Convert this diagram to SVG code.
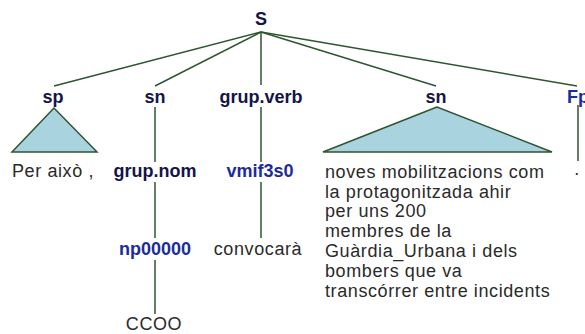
<svg xmlns="http://www.w3.org/2000/svg" width="585" height="334" viewBox="0 0 585 334">
<style>
.nt{font-family:"Liberation Sans",Arial,sans-serif;font-weight:bold;font-size:18px;fill:#14144a;text-anchor:middle}
.tag{font-family:"Liberation Sans",Arial,sans-serif;font-weight:bold;font-size:18px;fill:#1c2c9c;text-anchor:middle}
.w{font-family:"Liberation Sans",Arial,sans-serif;font-size:18px;fill:#2a2a2a;letter-spacing:0.6px}
.e{stroke:#2f5530;stroke-width:1.5;fill:none}
.tri{fill:#a9d3df;stroke:#2f5530;stroke-width:1.5}
</style>
<rect width="585" height="334" fill="#ffffff"/>
<g id="connectors">
<line class="e" x1="261" y1="32" x2="54" y2="86"/>
<line class="e" x1="261" y1="32" x2="155" y2="86"/>
<line class="e" x1="261" y1="32" x2="261" y2="85"/>
<line class="e" x1="261" y1="32" x2="436" y2="86"/>
<line class="e" x1="261" y1="32" x2="577" y2="86"/>
<line class="e" x1="155" y1="107" x2="155" y2="162"/>
<line class="e" x1="261" y1="107" x2="261" y2="162"/>
<line class="e" x1="578" y1="105" x2="578" y2="161"/>
<line class="e" x1="155" y1="182" x2="155" y2="238"/>
<line class="e" x1="261" y1="182" x2="261" y2="238"/>
<line class="e" x1="155" y1="260" x2="155" y2="314"/>
</g>
<g id="S"><text class="nt" x="261" y="25">S</text></g>
<g id="sp">
<text class="nt" x="53" y="103">sp</text>
<polygon class="tri" points="54,108 12,152 97,152"/>
<text class="w" x="12" y="177">Per això ,</text>
</g>
<g id="sn1"><text class="nt" x="155" y="103">sn</text></g>
<g id="grup-nom"><text class="nt" x="155" y="177">grup.nom</text></g>
<g id="np00000"><text class="tag" x="155" y="255">np00000</text></g>
<g id="CCOO"><text class="w" x="154" y="330" text-anchor="middle">CCOO</text></g>
<g id="grup-verb"><text class="nt" x="261" y="103">grup.verb</text></g>
<g id="vmif3s0"><text class="tag" x="260" y="177">vmif3s0</text></g>
<g id="convocara"><text class="w" x="258" y="255" text-anchor="middle">convocarà</text></g>
<g id="sn2">
<text class="nt" x="436" y="103">sn</text>
<polygon class="tri" points="437,107 323,152 552,152"/>
<text class="w" x="325" y="178">noves mobilitzacions com</text>
<text class="w" x="325" y="198">la protagonitzada ahir</text>
<text class="w" x="325" y="217">per uns 200</text>
<text class="w" x="325" y="237">membres de la</text>
<text class="w" x="325" y="257">Guàrdia_Urbana i dels</text>
<text class="w" x="325" y="277">bombers que va</text>
<text class="w" x="325" y="297">transcórrer entre incidents</text>
</g>
<g id="Fp">
<text class="tag" x="578" y="103">Fp</text>
<text class="w" x="577" y="175" text-anchor="middle">.</text>
</g>
</svg>
